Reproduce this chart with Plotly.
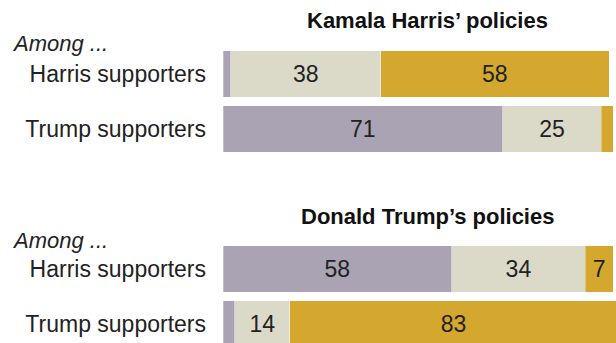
import plotly.graph_objects as go

# Survey shares (%) by supporter group, for each candidate's policies
groups = ["Harris supporters", "Trump supporters"]
series_names = ["Not too/Not at all", "Somewhat", "Very"]
series_colors = ["#A9A3B3", "#DBD9C7", "#D4A82F"]

harris_policies = {
    "Not too/Not at all": [2, 71],
    "Somewhat": [38, 25],
    "Very": [58, 3],
}
trump_policies = {
    "Not too/Not at all": [58, 3],
    "Somewhat": [34, 14],
    "Very": [7, 83],
}

panel_titles = ["Kamala Harris\u2019 policies", "Donald Trump\u2019s policies"]

FONT = "Liberation Sans, Arial, sans-serif"
TEXT_COLOR = "#222222"
W, H = 616, 343

fig = go.Figure()

panels = [(harris_policies, "x", "y"), (trump_policies, "x2", "y2")]
for data, xa, ya in panels:
    for name, color in zip(series_names, series_colors):
        vals = data[name]
        fig.add_trace(go.Bar(
            y=groups,
            x=vals,
            orientation="h",
            name=name,
            marker=dict(color=color, line=dict(color="rgba(255,255,255,0.6)", width=0.5)),
            text=[str(v) if v >= 5 else "" for v in vals],
            textposition="inside",
            insidetextanchor="middle",
            textangle=0,
            textfont=dict(family=FONT, size=23, color=TEXT_COLOR),
            hoverinfo="skip",
            xaxis=xa,
            yaxis=ya,
            showlegend=False,
            width=0.84,
        ))

# pixel helpers (top-down pixel rows -> paper fractions)
def py(pix):
    return 1 - pix / H

x_common = dict(range=[0, 99.75], showgrid=False, zeroline=False,
                showticklabels=False, fixedrange=True)
y_common = dict(showgrid=False, zeroline=False, ticks="", ticklabelstandoff=16,
                tickfont=dict(family=FONT, size=23, color=TEXT_COLOR),
                categoryorder="array", categoryarray=groups)

fig.update_layout(
    width=W, height=H,
    margin=dict(l=0, r=0, t=0, b=0),
    paper_bgcolor="white", plot_bgcolor="white",
    barmode="stack",
    bargap=0.16,
    xaxis=dict(domain=[223 / W, 1], anchor="y", **x_common),
    xaxis2=dict(domain=[223 / W, 1], anchor="y2", **x_common),
    yaxis=dict(domain=[py(156.5), py(46.5)], anchor="x", range=[1.5, -0.5], **y_common),
    yaxis2=dict(domain=[0, py(241.5)], anchor="x2", range=[1.345, -0.5], **y_common),
)

# panel headings and "Among ..." notes
for title, ty, ay in zip(panel_titles, [21, 216], [43, 241]):
    fig.add_annotation(text=f"<b>{title}</b>", xref="paper", yref="paper",
                       x=427 / W, y=py(ty), xanchor="center", yanchor="middle",
                       showarrow=False,
                       font=dict(family=FONT, size=22, color="#111111"))
    fig.add_annotation(text="<i>Among ...</i>", xref="paper", yref="paper",
                       x=10 / W, y=py(ay), xanchor="left", yanchor="middle",
                       showarrow=False,
                       font=dict(family=FONT, size=22, color=TEXT_COLOR))

fig.write_html("out.html")
